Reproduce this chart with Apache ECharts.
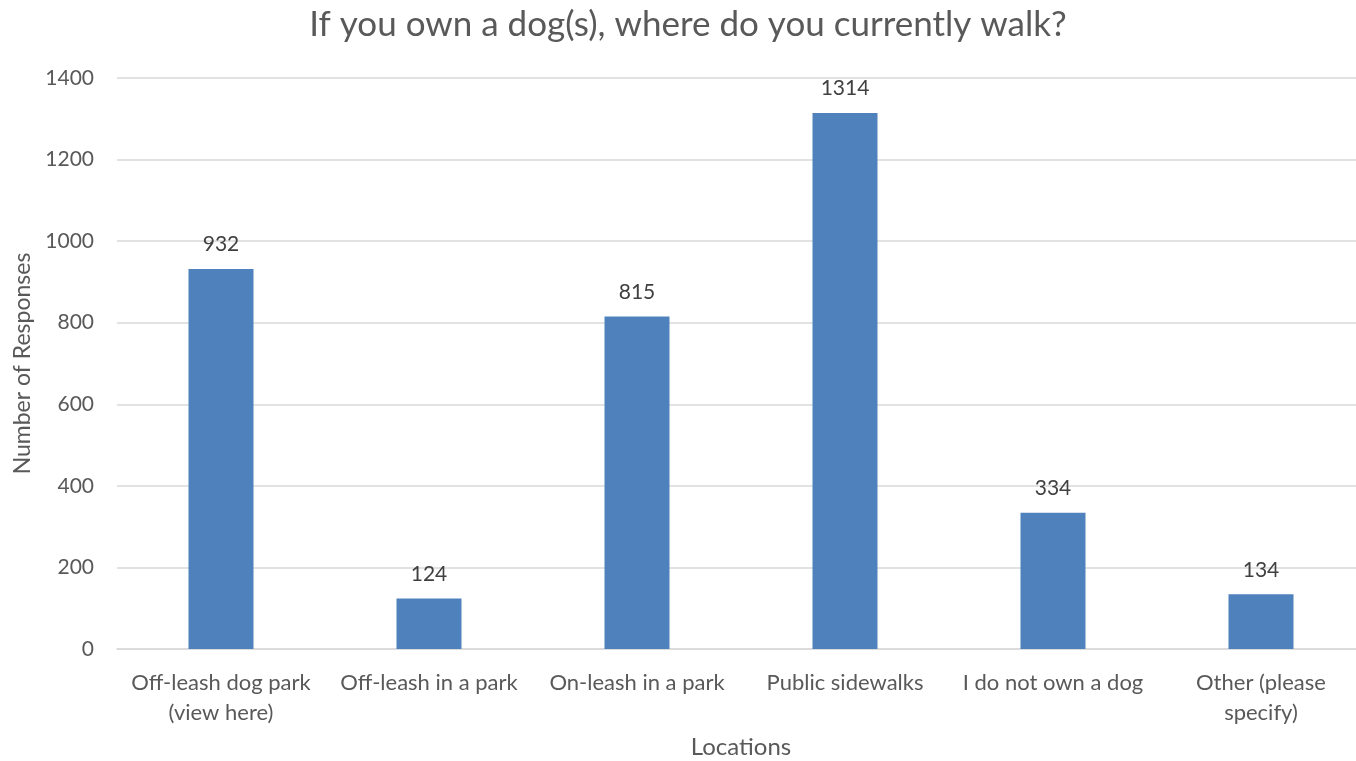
<!DOCTYPE html>
<html>
<head>
<meta charset="utf-8">
<script src="https://cdn.jsdelivr.net/npm/echarts@6/dist/echarts.min.js"></script>
<style>html,body{margin:0;padding:0;background:#fff;overflow:hidden;}#c{width:1370px;height:761px;}</style>
</head>
<body>
<div id="c"></div>
<script>
const titleText = 'If you own a dog(s), where do you currently walk?';
const categories = ['Off-leash dog park\n(view here)', 'Off-leash in a park', 'On-leash in a park', 'Public sidewalks', 'I do not own a dog', 'Other (please\nspecify)'];
const responses = [932, 124, 815, 1314, 334, 134];
const yTicks = [0, 200, 400, 600, 800, 1000, 1200, 1400];
const xAxisName = 'Locations';
const yAxisName = 'Number of Responses';

const FONT = 'Lato, "Open Sans", sans-serif';
const chart = echarts.init(document.getElementById('c'), null, {renderer: 'canvas'});
chart.setOption({
  animation: false,
  title: {
    text: titleText, left: 683, top: 2, textAlign: 'center',
    textStyle: {fontFamily: FONT, fontSize: 35, fontWeight: 'normal', color: '#595959'}
  },
  grid: {left: 117, right: 5, top: 78, bottom: 112, containLabel: false, outerBoundsMode: 'none'},
  xAxis: {
    type: 'category', data: categories,
    name: xAxisName, nameLocation: 'middle', nameGap: 86,
    nameTextStyle: {fontFamily: FONT, fontSize: 24, color: '#595959'},
    axisLine: {show: true, lineStyle: {color: '#d9d9d9', width: 1.5}},
    axisTick: {show: false},
    axisLabel: {fontFamily: FONT, fontSize: 22, color: '#595959', margin: 19, lineHeight: 30, interval: 0}
  },
  yAxis: {
    type: 'value', min: 0, max: 1400, interval: 200,
    name: yAxisName, nameLocation: 'middle', nameGap: 83,
    nameTextStyle: {fontFamily: FONT, fontSize: 23, color: '#595959'},
    axisLine: {show: false}, axisTick: {show: false},
    axisLabel: {fontFamily: FONT, fontSize: 21, color: '#595959', margin: 23,
      formatter: v => yTicks.includes(v) ? String(v) : ''},
    splitLine: {lineStyle: {color: '#d9d9d9', width: 1.5}}
  },
  series: [{
    type: 'bar', data: responses, barWidth: 65,
    itemStyle: {color: '#4F81BD'},
    label: {show: true, position: 'top', distance: 14, fontFamily: FONT, fontSize: 21, color: '#404040'}
  }]
});
</script>
</body>
</html>
